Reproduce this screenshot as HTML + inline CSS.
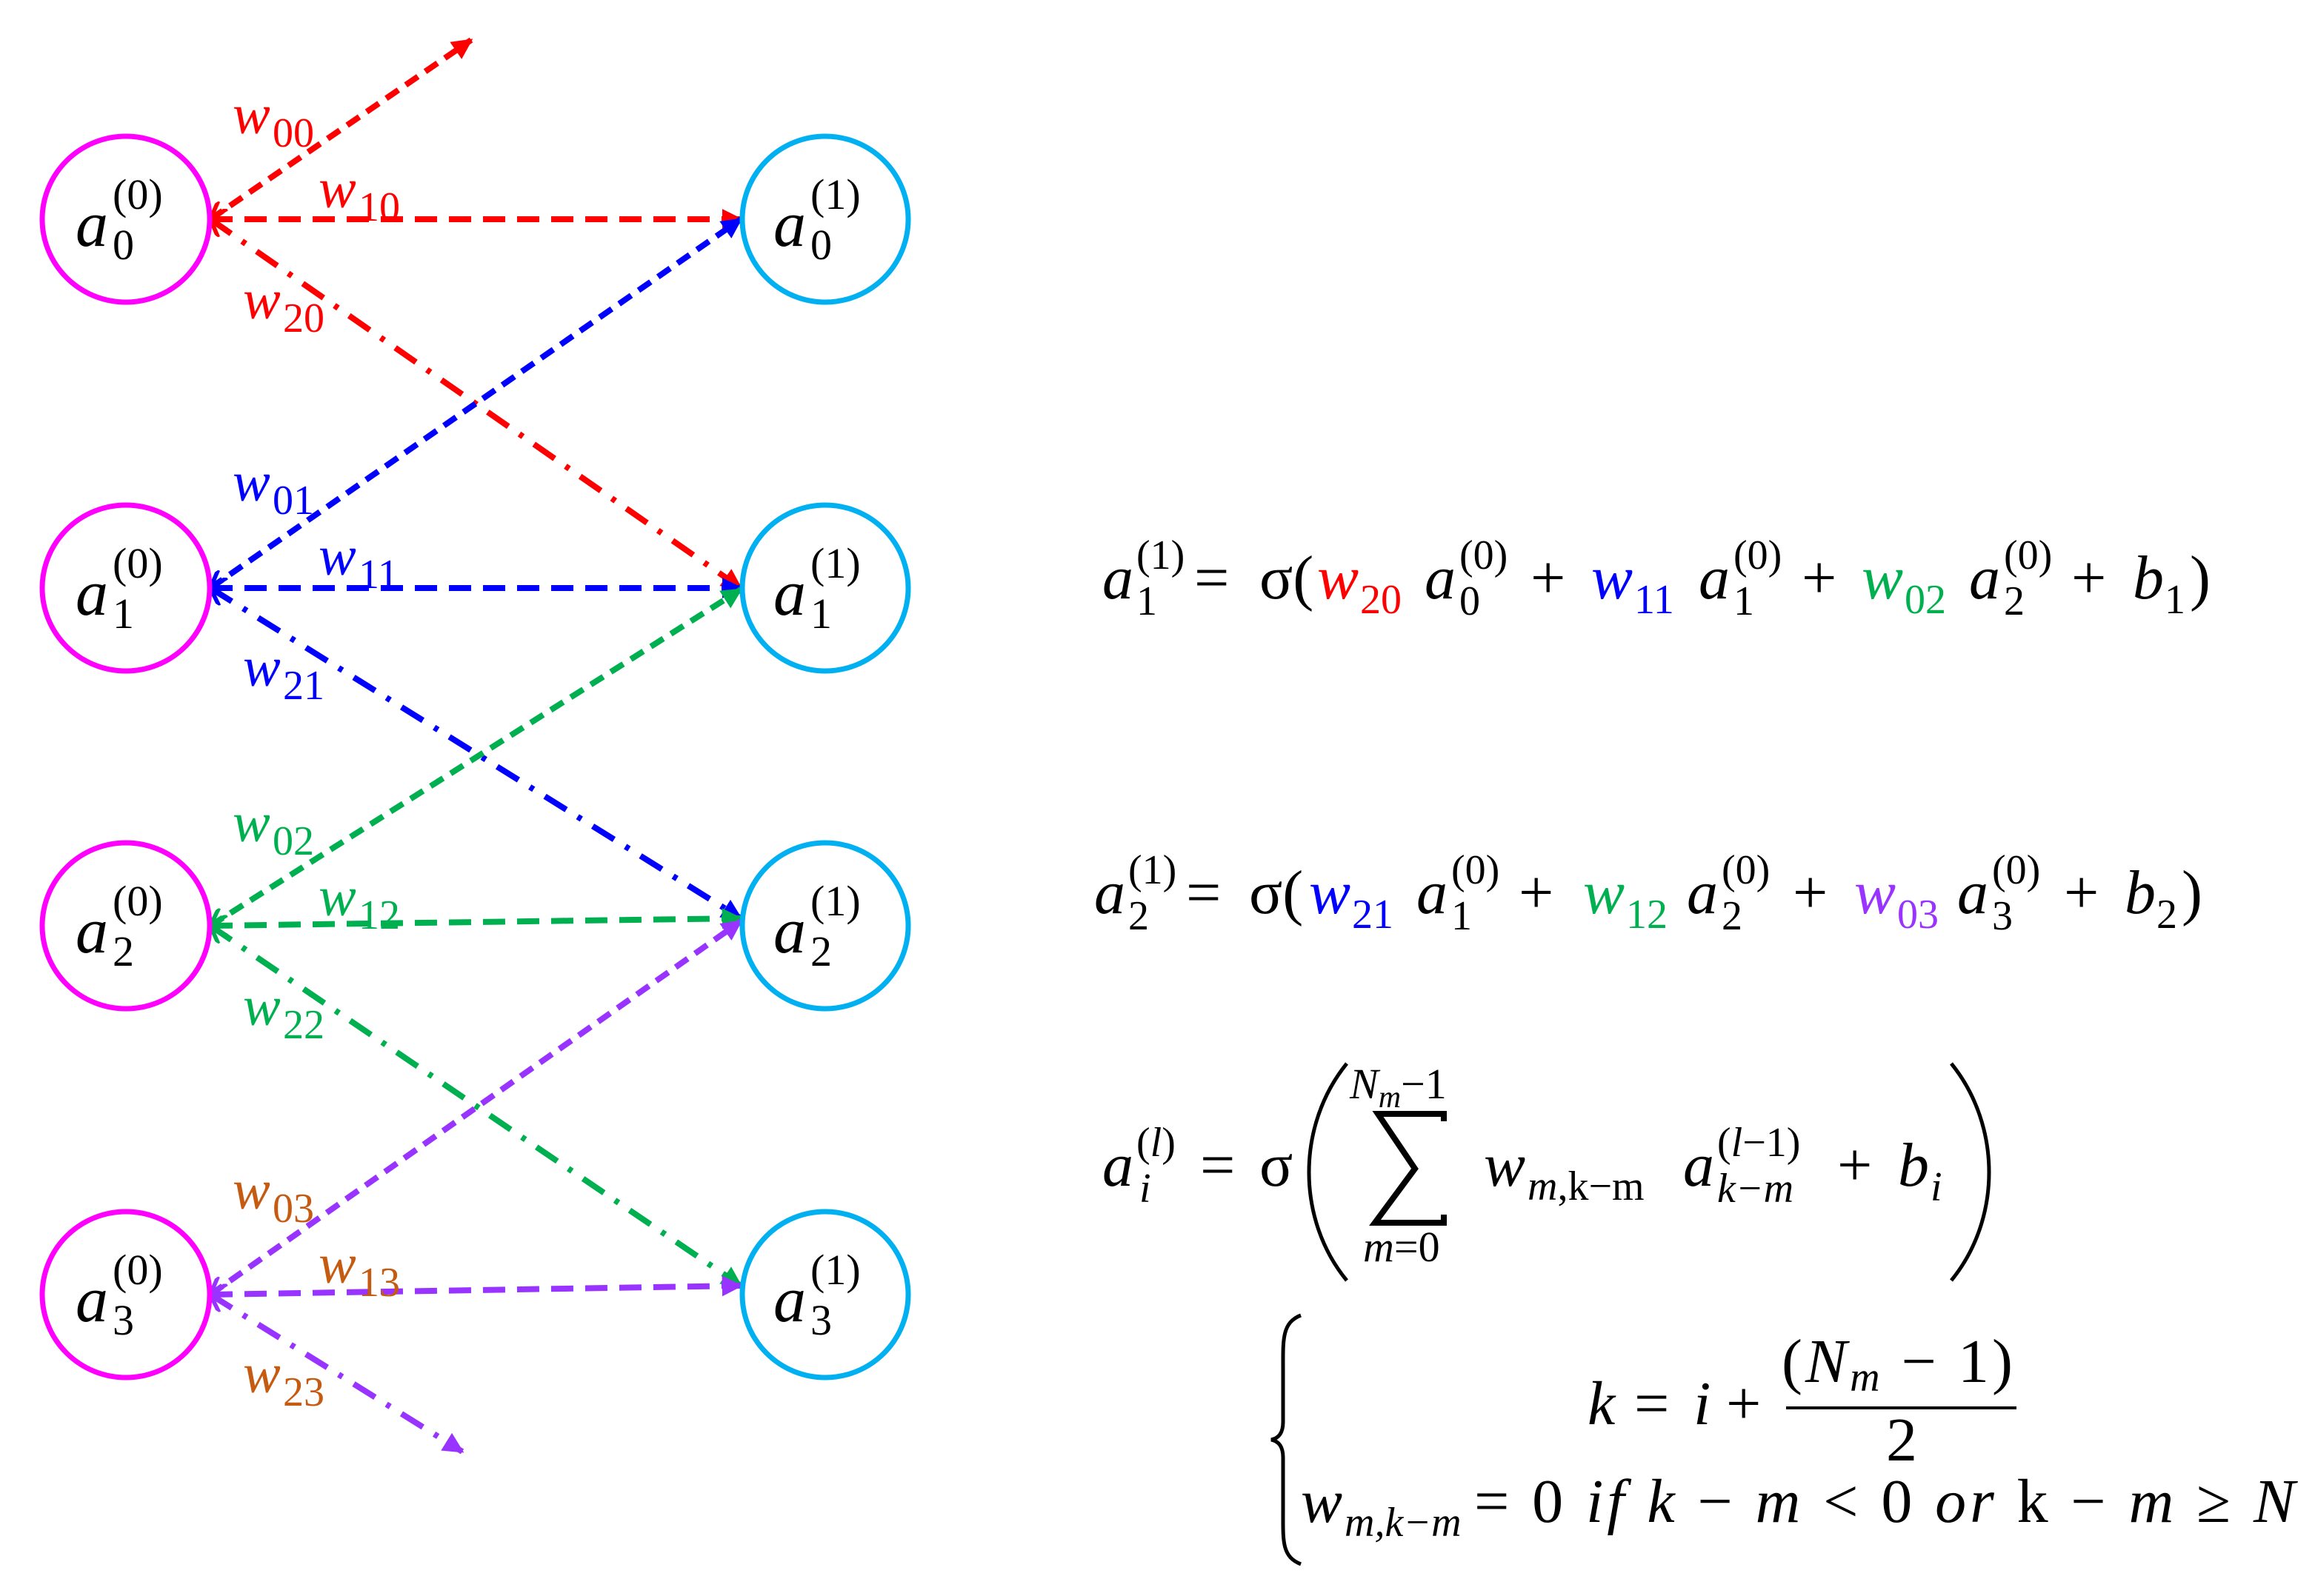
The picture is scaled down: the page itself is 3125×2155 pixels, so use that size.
<!DOCTYPE html>
<html><head><meta charset="utf-8"><style>
html,body{margin:0;padding:0;background:#fff;}
svg{display:block;}
text{font-family:"Liberation Serif",serif;}
.i{font-style:italic;}
</style></head><body>
<svg width="3125" height="2155" viewBox="0 0 3125 2155" xmlns="http://www.w3.org/2000/svg">
<defs>
<marker id="hr" viewBox="0 0 10 10" refX="9" refY="5" markerWidth="3.5" markerHeight="3.5" orient="auto"><path d="M0,0 L10,5 L0,10 z" fill="#ff0000"/></marker>
<marker id="hb" viewBox="0 0 10 10" refX="9" refY="5" markerWidth="3.5" markerHeight="3.5" orient="auto"><path d="M0,0 L10,5 L0,10 z" fill="#0000ff"/></marker>
<marker id="hg" viewBox="0 0 10 10" refX="9" refY="5" markerWidth="3.5" markerHeight="3.5" orient="auto"><path d="M0,0 L10,5 L0,10 z" fill="#00b050"/></marker>
<marker id="hp" viewBox="0 0 10 10" refX="9" refY="5" markerWidth="3.5" markerHeight="3.5" orient="auto"><path d="M0,0 L10,5 L0,10 z" fill="#9933ff"/></marker>
<marker id="tr" viewBox="0 0 10 10" refX="1" refY="5" markerWidth="3.5" markerHeight="3.5" orient="auto"><path d="M9,0 L1,5 L9,10" fill="none" stroke="#ff0000" stroke-width="2"/></marker>
<marker id="tb" viewBox="0 0 10 10" refX="1" refY="5" markerWidth="3.5" markerHeight="3.5" orient="auto"><path d="M9,0 L1,5 L9,10" fill="none" stroke="#0000ff" stroke-width="2"/></marker>
<marker id="tg" viewBox="0 0 10 10" refX="1" refY="5" markerWidth="3.5" markerHeight="3.5" orient="auto"><path d="M9,0 L1,5 L9,10" fill="none" stroke="#00b050" stroke-width="2"/></marker>
<marker id="tp" viewBox="0 0 10 10" refX="1" refY="5" markerWidth="3.5" markerHeight="3.5" orient="auto"><path d="M9,0 L1,5 L9,10" fill="none" stroke="#9933ff" stroke-width="2"/></marker>
</defs>

<g stroke-width="8" fill="none">
<line x1="284" y1="296" x2="636" y2="54" stroke="#ff0000" stroke-dasharray="20 12" marker-start="url(#tr)" marker-end="url(#hr)"/>
<line x1="284" y1="296" x2="1000" y2="296" stroke="#ff0000" stroke-dasharray="30 16" marker-start="url(#tr)" marker-end="url(#hr)"/>
<line x1="284" y1="296" x2="1000" y2="794" stroke="#ff0000" stroke-dasharray="34 18 6 18" marker-start="url(#tr)" marker-end="url(#hr)"/>

<line x1="284" y1="794" x2="1000" y2="296" stroke="#0000ff" stroke-dasharray="20 12" marker-start="url(#tb)" marker-end="url(#hb)"/>
<line x1="284" y1="794" x2="1000" y2="794" stroke="#0000ff" stroke-dasharray="30 16" marker-start="url(#tb)" marker-end="url(#hb)"/>
<line x1="284" y1="794" x2="1000" y2="1240" stroke="#0000ff" stroke-dasharray="34 18 6 18" marker-start="url(#tb)" marker-end="url(#hb)"/>

<line x1="284" y1="1250" x2="1000" y2="796" stroke="#00b050" stroke-dasharray="20 12" marker-start="url(#tg)" marker-end="url(#hg)"/>
<line x1="284" y1="1250" x2="1000" y2="1240" stroke="#00b050" stroke-dasharray="30 16" marker-start="url(#tg)" marker-end="url(#hg)"/>
<line x1="284" y1="1250" x2="1000" y2="1736" stroke="#00b050" stroke-dasharray="34 18 6 18" marker-start="url(#tg)" marker-end="url(#hg)"/>

<line x1="284" y1="1748" x2="1000" y2="1244" stroke="#9933ff" stroke-dasharray="20 12" marker-start="url(#tp)" marker-end="url(#hp)"/>
<line x1="284" y1="1748" x2="1000" y2="1736" stroke="#9933ff" stroke-dasharray="30 16" marker-start="url(#tp)" marker-end="url(#hp)"/>
<line x1="284" y1="1748" x2="624" y2="1960" stroke="#9933ff" stroke-dasharray="34 18 6 18" marker-start="url(#tp)" marker-end="url(#hp)"/>
</g>

<g fill="none" stroke-width="7">
<ellipse cx="170" cy="296" rx="113" ry="112" stroke="#ff00ff"/>
<ellipse cx="170" cy="794" rx="113" ry="112" stroke="#ff00ff"/>
<ellipse cx="170" cy="1250" rx="113" ry="112" stroke="#ff00ff"/>
<ellipse cx="170" cy="1748" rx="113" ry="112" stroke="#ff00ff"/>
<ellipse cx="1114" cy="296" rx="112" ry="112" stroke="#00b0f0"/>
<ellipse cx="1114" cy="794" rx="112" ry="112" stroke="#00b0f0"/>
<ellipse cx="1114" cy="1250" rx="112" ry="112" stroke="#00b0f0"/>
<ellipse cx="1114" cy="1748" rx="112" ry="112" stroke="#00b0f0"/>
</g>

<g font-size="88" fill="#000">
<text x="102" y="332" class="i">a</text><text x="152" y="282" font-size="58">(0)</text><text x="152" y="350" font-size="58">0</text>
<text x="102" y="830" class="i">a</text><text x="152" y="780" font-size="58">(0)</text><text x="152" y="848" font-size="58">1</text>
<text x="102" y="1286" class="i">a</text><text x="152" y="1236" font-size="58">(0)</text><text x="152" y="1304" font-size="58">2</text>
<text x="102" y="1784" class="i">a</text><text x="152" y="1734" font-size="58">(0)</text><text x="152" y="1802" font-size="58">3</text>
<text x="1044" y="332" class="i">a</text><text x="1094" y="282" font-size="58">(1)</text><text x="1094" y="350" font-size="58">0</text>
<text x="1044" y="830" class="i">a</text><text x="1094" y="780" font-size="58">(1)</text><text x="1094" y="848" font-size="58">1</text>
<text x="1044" y="1286" class="i">a</text><text x="1094" y="1236" font-size="58">(1)</text><text x="1094" y="1304" font-size="58">2</text>
<text x="1044" y="1784" class="i">a</text><text x="1094" y="1734" font-size="58">(1)</text><text x="1094" y="1802" font-size="58">3</text>
</g>

<g font-size="76">
<g fill="#ff0000">
<text x="314" y="180" class="i">w</text><text x="368" y="198" font-size="56">00</text>
<text x="430" y="280" class="i">w</text><text x="484" y="298" font-size="56">10</text>
<text x="328" y="430" class="i">w</text><text x="382" y="448" font-size="56">20</text>
</g>
<g fill="#0000ff">
<text x="314" y="676" class="i">w</text><text x="368" y="694" font-size="56">01</text>
<text x="430" y="776" class="i">w</text><text x="484" y="794" font-size="56">11</text>
<text x="328" y="926" class="i">w</text><text x="382" y="944" font-size="56">21</text>
</g>
<g fill="#00b050">
<text x="314" y="1136" class="i">w</text><text x="368" y="1154" font-size="56">02</text>
<text x="430" y="1236" class="i">w</text><text x="484" y="1254" font-size="56">12</text>
<text x="328" y="1384" class="i">w</text><text x="382" y="1402" font-size="56">22</text>
</g>
<g fill="#c55a11">
<text x="314" y="1632" class="i">w</text><text x="368" y="1650" font-size="56">03</text>
<text x="430" y="1732" class="i">w</text><text x="484" y="1750" font-size="56">13</text>
<text x="328" y="1880" class="i">w</text><text x="382" y="1898" font-size="56">23</text>
</g>
</g>

<g font-size="84" fill="#000">
<text x="1488" y="808" class="i">a</text><text x="1534" y="768" font-size="56">(1)</text><text x="1534" y="830" font-size="56">1</text>
<text x="1612" y="808">=</text>
<text x="1700" y="808">σ(</text>
<text x="1778" y="808" class="i" fill="#ff0000">w</text><text x="1836" y="828" font-size="56" fill="#ff0000">20</text>
<text x="1923" y="808" class="i">a</text><text x="1970" y="768" font-size="56">(0)</text><text x="1970" y="830" font-size="56">0</text>
<text x="2066" y="808">+</text>
<text x="2148" y="808" class="i" fill="#0000ff">w</text><text x="2206" y="828" font-size="56" fill="#0000ff">11</text>
<text x="2293" y="808" class="i">a</text><text x="2340" y="768" font-size="56">(0)</text><text x="2340" y="830" font-size="56">1</text>
<text x="2432" y="808">+</text>
<text x="2513" y="808" class="i" fill="#00b050">w</text><text x="2571" y="828" font-size="56" fill="#00b050">02</text>
<text x="2658" y="808" class="i">a</text><text x="2705" y="768" font-size="56">(0)</text><text x="2705" y="830" font-size="56">2</text>
<text x="2796" y="808">+</text>
<text x="2879" y="808" class="i">b</text><text x="2922" y="828" font-size="56">1</text>
<text x="2956" y="808">)</text>
</g>

<g font-size="84" fill="#000">
<text x="1477" y="1233" class="i">a</text><text x="1523" y="1193" font-size="56">(1)</text><text x="1523" y="1255" font-size="56">2</text>
<text x="1601" y="1233">=</text>
<text x="1686" y="1233">σ(</text>
<text x="1767" y="1233" class="i" fill="#0000ff">w</text><text x="1825" y="1253" font-size="56" fill="#0000ff">21</text>
<text x="1912" y="1233" class="i">a</text><text x="1959" y="1193" font-size="56">(0)</text><text x="1959" y="1255" font-size="56">1</text>
<text x="2050" y="1233">+</text>
<text x="2137" y="1233" class="i" fill="#00b050">w</text><text x="2195" y="1253" font-size="56" fill="#00b050">12</text>
<text x="2277" y="1233" class="i">a</text><text x="2324" y="1193" font-size="56">(0)</text><text x="2324" y="1255" font-size="56">2</text>
<text x="2420" y="1233">+</text>
<text x="2503" y="1233" class="i" fill="#9933ff">w</text><text x="2561" y="1253" font-size="56" fill="#9933ff">03</text>
<text x="2642" y="1233" class="i">a</text><text x="2689" y="1193" font-size="56">(0)</text><text x="2689" y="1255" font-size="56">3</text>
<text x="2786" y="1233">+</text>
<text x="2868" y="1233" class="i">b</text><text x="2911" y="1253" font-size="56">2</text>
<text x="2945" y="1233">)</text>
</g>

<g font-size="84" fill="#000">
<text x="1488" y="1601" class="i">a</text><text x="1534" y="1561" font-size="56">(<tspan class="i">l</tspan>)</text><text x="1538" y="1623" font-size="56" class="i">i</text>
<text x="1620" y="1601">=</text>
<text x="1700" y="1601">σ</text>
<path d="M1818,1436 C1750,1520 1750,1646 1818,1729" fill="none" stroke="#000" stroke-width="5"/>
<text x="1822" y="1483" font-size="58" class="i">N<tspan font-size="42" dy="12">m</tspan><tspan dy="-12" font-style="normal">−1</tspan></text>
<path d="M1949,1514 L1949,1504 L1860,1504 L1910,1578 L1856,1651 L1949,1651 L1949,1640" fill="none" stroke="#000" stroke-width="8" stroke-linejoin="miter"/>
<text x="1840" y="1703" font-size="58"><tspan class="i">m</tspan>=0</text>
<text x="2003" y="1601" class="i">w</text><text x="2062" y="1620" font-size="56"><tspan class="i">m</tspan>,k−m</text>
<text x="2272" y="1601" class="i">a</text><text x="2318" y="1561" font-size="56">(<tspan class="i">l</tspan>−1)</text><text x="2318" y="1623" font-size="56" class="i">k−m</text>
<text x="2480" y="1601">+</text>
<text x="2562" y="1601" class="i">b</text><text x="2606" y="1621" font-size="56" class="i">i</text>
<path d="M2634,1436 C2702,1520 2702,1646 2634,1729" fill="none" stroke="#000" stroke-width="5"/>
</g>

<path d="M1756,1776 C1730,1786 1732,1810 1732,1850 L1732,1920 C1732,1935 1726,1942 1716,1944 C1726,1946 1732,1953 1732,1968 L1732,2040 C1732,2080 1730,2102 1756,2112" fill="none" stroke="#000" stroke-width="5"/>
<g font-size="84" fill="#000">
<text x="2143" y="1923" class="i">k</text>
<text x="2206" y="1923">=</text>
<text x="2286" y="1923" class="i">i</text>
<text x="2330" y="1923">+</text>
<text x="2405" y="1866" textLength="312">(<tspan class="i">N</tspan><tspan class="i" font-size="56" dy="12">m</tspan><tspan dy="-12"> − 1)</tspan></text>
<line x1="2411" y1="1901" x2="2722" y2="1901" stroke="#000" stroke-width="4"/>
<text x="2546" y="1972">2</text>
<text x="1756" y="2055" class="i">w</text><text x="1815" y="2074" font-size="56" class="i">m,k−m</text>
<text x="1990" y="2055" textLength="1108" lengthAdjust="spacing">= 0 <tspan class="i">if k</tspan> − <tspan class="i">m</tspan> &lt; 0 <tspan class="i">or</tspan> k − <tspan class="i">m</tspan> ≥ <tspan class="i">N</tspan></text>
</g>
</svg>
</body></html>
